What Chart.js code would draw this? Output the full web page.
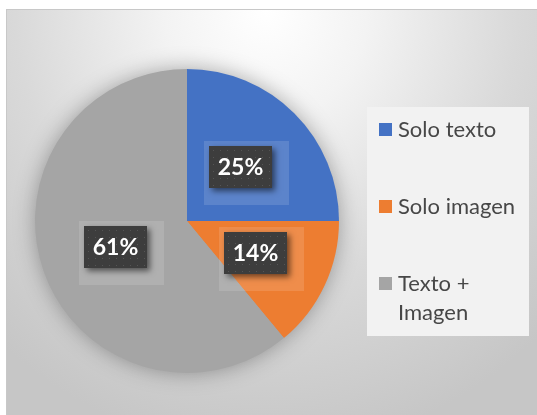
<!DOCTYPE html>
<html lang="es">
<head>
    <meta charset="UTF-8">
    <title>Solo texto / Solo imagen / Texto + Imagen</title>
    <script src="https://cdn.jsdelivr.net/npm/chart.js@4"></script>
    <style>
        html, body {
            margin: 0;
            padding: 0;
            background: #ffffff;
        }
        .wrap {
            position: relative;
            width: 537px;
            height: 415px;
            overflow: hidden;
        }
        .frame {
            position: absolute;
            left: 6px;
            top: 9px;
            width: 540px;
            height: 420px;
            border-left: 1px solid #c8c8c8;
            border-top: 1px solid #c8c8c8;
            background: radial-gradient(ellipse 75% 105% at 48% 0%, #ffffff 0%, #f3f3f3 25%, #d9d9d9 62%, #c6c6c6 100%);
        }
        canvas {
            position: absolute;
            left: 0;
            top: 0;
        }
    </style>
</head>
<body>
<div class="wrap">
    <div class="frame"></div>
    <canvas id="pieChart" width="537" height="415"></canvas>
</div>

<script>
    // datos del gráfico
    const labels = ['Solo texto', 'Solo imagen', ['Texto +', 'Imagen']];
    const values = [25, 14, 61];
    const colors = ['#4472C4', '#ED7D31', '#A5A5A5'];

    // sombra suave detrás del pastel
    const pieShadow = {
        id: 'pieShadow',
        beforeDatasetsDraw(chart) {
            const arc = chart.getDatasetMeta(0).data[0];
            if (!arc) return;
            const ctx = chart.ctx;
            ctx.save();
            ctx.shadowColor = 'rgba(0,0,0,0.35)';
            ctx.shadowBlur = 22;
            ctx.fillStyle = '#a5a5a5';
            ctx.beginPath();
            ctx.arc(arc.x, arc.y, arc.outerRadius - 1, 0, Math.PI * 2);
            ctx.fill();
            ctx.restore();
        }
    };

    // etiquetas de porcentaje en cajas oscuras
    const boxLabels = {
        id: 'boxLabels',
        afterDatasetsDraw(chart) {
            const ctx = chart.ctx;
            const total = values.reduce((a, b) => a + b, 0);
            chart.getDatasetMeta(0).data.forEach((arc, i) => {
                const p = arc.tooltipPosition();
                const w = 63, h = 42;
                const x = Math.round(p.x - w / 2), y = Math.round(p.y - h / 2);

                ctx.save();
                ctx.fillStyle = 'rgba(255,255,255,0.13)';
                ctx.fillRect(x - 5, y - 5, w + 22, h + 22);
                ctx.restore();

                ctx.save();
                ctx.shadowColor = 'rgba(0,0,0,0.55)';
                ctx.shadowBlur = 6;
                ctx.shadowOffsetX = 3;
                ctx.shadowOffsetY = 3;
                ctx.fillStyle = '#3d3d3d';
                ctx.fillRect(x, y, w, h);
                ctx.restore();

                ctx.save();
                ctx.fillStyle = '#555555';
                for (let dx = 4; dx < w; dx += 7) {
                    for (let dy = 4; dy < h; dy += 7) {
                        ctx.fillRect(x + dx, y + dy, 1, 1);
                    }
                }
                ctx.fillStyle = '#ffffff';
                ctx.font = 'bold 23px Lato, "Open Sans", sans-serif';
                ctx.textAlign = 'center';
                ctx.textBaseline = 'middle';
                ctx.fillText(Math.round(values[i] / total * 100) + '%', x + w / 2, y + h / 2 + 1);
                ctx.restore();
            });
        }
    };

    // leyenda a la derecha
    const sideLegend = {
        id: 'sideLegend',
        afterDraw(chart) {
            const ctx = chart.ctx;
            ctx.save();
            ctx.fillStyle = '#f2f2f2';
            ctx.fillRect(367, 107, 162, 229);
            const rows = [130, 207, 284];
            ctx.font = '22px Lato, "Open Sans", sans-serif';
            ctx.textBaseline = 'middle';
            ctx.textAlign = 'left';
            labels.forEach((lab, i) => {
                const lines = Array.isArray(lab) ? lab : [lab];
                ctx.fillStyle = colors[i];
                ctx.fillRect(379, rows[i] - 7, 13, 13);
                ctx.fillStyle = '#474747';
                lines.forEach((t, j) => ctx.fillText(t, 398, rows[i] + j * 29));
            });
            ctx.restore();
        }
    };

    new Chart(document.getElementById('pieChart'), {
        type: 'pie',
        data: {
            labels: labels,
            datasets: [{
                data: values,
                backgroundColor: colors,
                borderWidth: 0
            }]
        },
        options: {
            responsive: false,
            animation: false,
            layout: { padding: { left: 35, right: 198, top: 69, bottom: 42 } },
            plugins: {
                legend: { display: false },
                tooltip: { enabled: false }
            }
        },
        plugins: [pieShadow, boxLabels, sideLegend]
    });
</script>
</body>
</html>
